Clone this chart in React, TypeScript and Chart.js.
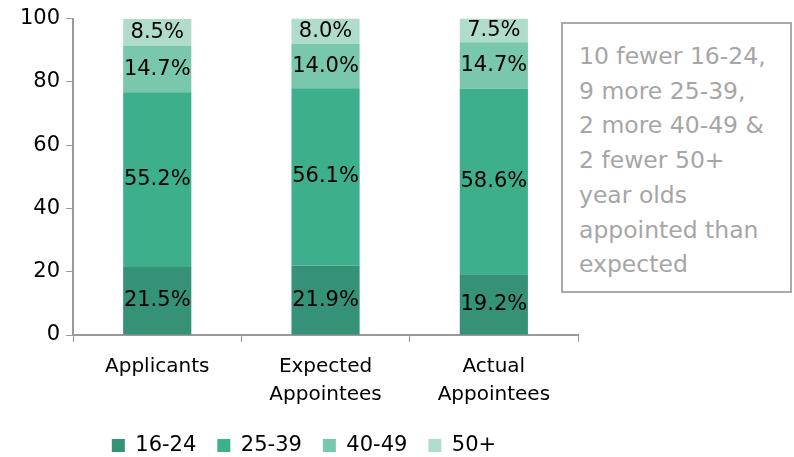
import React, { useEffect, useRef } from "react";
import { Chart, registerables } from "chart.js";

Chart.register(...registerables);

const categories: (string | string[])[] = ["Applicants", ["Expected", "Appointees"], ["Actual", "Appointees"]];
const seriesNames = ["16-24", "25-39", "40-49", "50+"];
const age1624 = [21.5, 21.9, 19.2];
const age2539 = [55.2, 56.1, 58.6];
const age4049 = [14.7, 14.0, 14.7];
const age50p = [8.5, 8.0, 7.5];
const colors = ["#359178", "#3daf8d", "#79c8ad", "#b0dccb"];
const noteLines = [
  "10 fewer 16-24,",
  "9 more 25-39,",
  "2 more 40-49 &",
  "2 fewer 50+",
  "year olds",
  "appointed than",
  "expected",
];

const FONT = "'DejaVu Sans', sans-serif";

const labelPlugin = {
  id: "segLabels",
  afterLayout(chart: any) {
    if (chart.legend) {
      chart.legend.left += 8;
      chart.legend.right += 8;
    }
  },
  afterDatasetsDraw(chart: any) {
    const ctx = chart.ctx;
    ctx.save();
    ctx.fillStyle = "#000";
    ctx.font = `21px ${FONT}`;
    ctx.textAlign = "center";
    ctx.textBaseline = "middle";
    chart.data.datasets.forEach((ds: any, i: number) => {
      const meta = chart.getDatasetMeta(i);
      meta.data.forEach((bar: any, j: number) => {
        const y = (bar.y + bar.base) / 2;
        ctx.fillText(ds.data[j].toFixed(1) + "%", bar.x, y);
      });
    });
    ctx.restore();
  },
};

export default function App() {
  const ref = useRef<HTMLCanvasElement>(null);
  useEffect(() => {
    const values = [age1624, age2539, age4049, age50p];
    const chart = new Chart(ref.current!, {
      type: "bar",
      data: {
        labels: categories as any,
        datasets: seriesNames.map((n, i) => ({
          label: n,
          data: values[i],
          backgroundColor: colors[i],
          borderWidth: 0,
          barPercentage: 0.405,
          categoryPercentage: 1,
        })),
      },
      options: {
        animation: false,
        responsive: false,
        maintainAspectRatio: false,
        layout: { padding: { top: 6, right: 22, left: 14, bottom: -9 } },
        plugins: {
          tooltip: { enabled: false },
          legend: {
            position: "bottom",
            labels: {
              boxWidth: 13,
              boxHeight: 13,
              color: "#000",
              font: { family: FONT, size: 21 },
              padding: 21,
            },
          },
        },
        scales: {
          x: {
            stacked: true,
            grid: { display: true, drawOnChartArea: false, offset: true, tickLength: 7, color: "#999" },
            border: { color: "#999", width: 2 },
            ticks: { color: "#000", font: { family: FONT, size: 20, lineHeight: 1.4 }, padding: 11 },
            afterFit: (scale: any) => {
              scale.height -= 6;
            },
          },
          y: {
            stacked: true,
            min: 0,
            max: 100,
            grid: { display: true, drawOnChartArea: false, tickLength: 7, color: "#999" },
            border: { color: "#999", width: 2 },
            ticks: { stepSize: 20, color: "#000", font: { family: FONT, size: 21 }, padding: 6 },
          },
        },
      } as any,
      plugins: [labelPlugin],
    });
    return () => chart.destroy();
  }, []);

  return (
    <div style={{ position: "fixed", left: 0, top: 0, width: 794, height: 457, background: "#fff" }}>
      <canvas ref={ref} width={600} height={457} style={{ position: "absolute", left: 0, top: 0 }} />
      <div
        style={{
          position: "absolute",
          left: 561,
          top: 22,
          width: 231,
          height: 271,
          border: "2px solid #aaa",
          boxSizing: "border-box",
          padding: "15px 0 0 16px",
          color: "#a6a6a6",
          fontFamily: FONT,
          fontSize: 23.5,
          lineHeight: "34.7px",
          background: "#fff",
        }}
      >
        {noteLines.map((l, i) => (
          <div key={i} style={{ whiteSpace: "nowrap" }}>{l}</div>
        ))}
      </div>
    </div>
  );
}
